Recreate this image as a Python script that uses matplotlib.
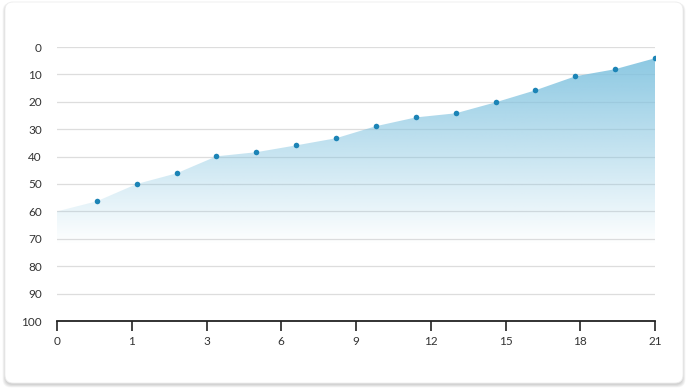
import numpy as np
import matplotlib
matplotlib.use("Agg")
import matplotlib.pyplot as plt
from matplotlib.patches import FancyBboxPatch, Polygon

plt.rcParams['font.family'] = ['Lato', 'DejaVu Sans']

# data (y axis is reversed)
values = [60, 56.3, 50, 46.1, 39.9, 38.4, 35.9, 33.3, 28.9, 25.7, 24.2, 20.2, 15.8, 10.7, 8.1, 4.1]
x_labels = ['0', '1', '3', '6', '9', '12', '15', '18', '21']
y_ticks = [0, 10, 20, 30, 40, 50, 60, 70, 80, 90, 100]

W, H = 690, 392
fig = plt.figure(figsize=(W / 100, H / 100), dpi=100)
fig.patch.set_facecolor('white')

# card with soft shadow
bg = fig.add_axes([0, 0, 1, 1])
bg.set_xlim(0, W)
bg.set_ylim(H, 0)
bg.axis('off')
for i in range(5):
    bg.add_patch(FancyBboxPatch((5 - i * 0.6, 2 + 2 - i * 0.3), 678 + i * 1.2, 381 + i * 0.9,
                                boxstyle="round,pad=0,rounding_size=8",
                                fc='#000000', ec='none', alpha=0.035))
bg.add_patch(FancyBboxPatch((5, 2), 678, 381, boxstyle="round,pad=0,rounding_size=8",
                            fc='white', ec='#ececec', lw=0.6))

ax = fig.add_axes([57 / W, 1 - 321 / H, 598 / W, 274 / H])
ax.patch.set_alpha(0)
x = np.arange(len(values))
ax.set_xlim(0, len(values) - 1)
ax.set_ylim(100, 0)

# gradient fill between the curve and the bottom
grad = np.zeros((256, 2, 4))
base = np.array([0x7f, 0xc2, 0xdf]) / 255
t = np.linspace(0, 1, 256)[:, None]  # 0 -> y=0, 1 -> y=100
grad[..., :3] = base
grad[..., 3] = np.clip(0.95 * (1 - t / 0.72), 0, 1)
im = ax.imshow(grad, extent=[0, len(values) - 1, 100, 0], aspect='auto', zorder=1)
verts = list(zip(x, values)) + [(x[-1], 100), (0, 100)]
poly = Polygon(verts, closed=True, fc='none', ec='none', transform=ax.transData)
ax.add_patch(poly)
im.set_clip_path(poly)

ax.scatter(x[1:], values[1:], s=16, color='#1c84b6', zorder=3, linewidths=0)

ax.set_yticks(y_ticks)
ax.grid(axis='y', color='#dddddd', lw=0.9, zorder=0)
ax.set_xticks(np.linspace(0, len(values) - 1, len(x_labels)))
ax.set_xticklabels(x_labels)
ax.tick_params(axis='y', length=0, pad=11, labelsize=8.5, labelcolor='#333333')
ax.tick_params(axis='x', length=7, width=1.2, color='#222222', pad=4,
               labelsize=8.5, labelcolor='#333333')
for s in ['top', 'right', 'left']:
    ax.spines[s].set_visible(False)
ax.spines['bottom'].set_color('#222222')
ax.spines['bottom'].set_linewidth(1.3)
ax.set_axisbelow(True)

fig.savefig('out.png', dpi=100)
